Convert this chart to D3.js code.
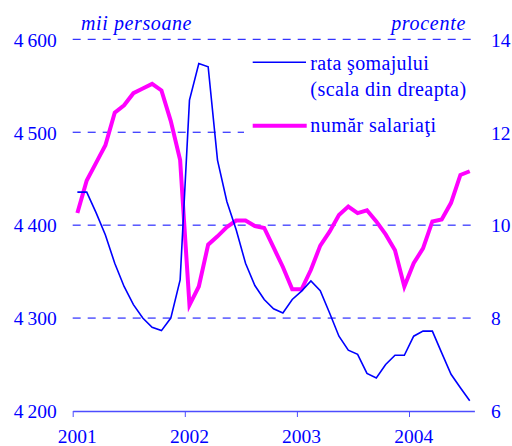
<!DOCTYPE html>
<html><head><meta charset="utf-8">
<script src="https://cdn.jsdelivr.net/npm/d3@7/dist/d3.min.js"></script>
<style>
body{margin:0;background:#fff;}
text{font-family:"Liberation Serif","Times New Roman",serif;fill:#0000ff;}
</style></head>
<body><svg id="c" width="512" height="446"></svg>
<script>
const years = ["2001","2002","2003","2004"];
const leftTicks = [4200,4300,4400,4500,4600];
const rightTicks = [6,8,10,12,14];
// monthly, Jan 2001 - Jul 2004
const somaj = [10.71,10.71,10.27,9.79,9.18,8.68,8.29,8.00,7.80,7.73,
  8.00,8.82,12.69,13.48,13.41,11.40,10.51,9.90,9.18,8.70,
  8.40,8.20,8.11,8.40,8.58,8.80,8.59,8.11,7.61,7.31,
  7.22,6.81,6.71,7.00,7.20,7.20,7.61,7.72,7.72,7.25,
  6.79,6.50,6.22];
const salariati = [4413,4448,4467,4486,4521,4529,4542,4547,4552,4545,
  4512,4470,4314,4334,4379,4388,4398,4405,4405,4399,
  4397,4376,4355,4331,4331,4352,4378,4393,4411,4420,
  4413,4416,4404,4390,4373,4334,4359,4375,4404,4406,
  4424,4454,4458];

const svg = d3.select("#c");
const x = d3.scaleLinear().domain([0,43]).range([72.7,474.4]);
const yL = d3.scaleLinear().domain([4200,4600]).range([411,39.3]);
const yR = d3.scaleLinear().domain([6,14]).range([411,39.3]);
const fmt = d => d3.format(",")(d).replace(",", " ");

// gridlines
svg.append("g").selectAll("line").data(leftTicks.slice(1)).join("line")
  .attr("x1",x(0)).attr("x2",x(43))
  .attr("y1",d=>yL(d)).attr("y2",d=>yL(d))
  .attr("stroke","#0000ff").attr("stroke-width",1).attr("stroke-dasharray","8,7");

// legend background
svg.append("rect").attr("x",244).attr("y",48).attr("width",228).attr("height",92).attr("fill","#fff");

// x axis
const xAxis = d3.axisBottom(x).tickValues([0,12,24,36]).tickFormat("").tickSize(6).tickSizeOuter(0);
const gx = svg.append("g").attr("transform","translate(0,411)").call(xAxis);
gx.select(".domain").attr("stroke","#4d4dff").attr("stroke-width",1.5);
gx.selectAll(".tick line").attr("stroke","#4d4dff");
// year labels centred on January of each year
svg.append("g").selectAll("text").data(years).join("text")
  .attr("x",(d,i)=>x(i*12+0.5)).attr("y",443).attr("text-anchor","middle")
  .attr("font-size",19.5).text(d=>d);

// left labels
svg.append("g").selectAll("text").data(leftTicks).join("text")
  .attr("x",56.7).attr("y",d=>yL(d)+7.3).attr("text-anchor","end")
  .attr("font-size",19.5).attr("word-spacing",-1).text(fmt);
// right labels
svg.append("g").selectAll("text").data(rightTicks).join("text")
  .attr("x",491).attr("y",d=>yR(d)+7.3)
  .attr("font-size",19.5).text(d=>d);

// units
svg.append("text").attr("x",81).attr("y",30).attr("font-size",20).attr("font-style","italic")
  .attr("letter-spacing",0.6).text("mii persoane");
svg.append("text").attr("x",466).attr("y",30).attr("font-size",20).attr("font-style","italic")
  .attr("text-anchor","end").attr("letter-spacing",0.7).text("procente");

// lines
const lineL = d3.line().x((d,i)=>x(i+0.5)).y(d=>yL(d));
const lineR = d3.line().x((d,i)=>x(i+0.5)).y(d=>yR(d));
svg.append("path").datum(salariati).attr("d",lineL).attr("fill","none")
  .attr("stroke","#ff00ff").attr("stroke-width",4).attr("stroke-linejoin","miter");
svg.append("path").datum(somaj).attr("d",lineR).attr("fill","none")
  .attr("stroke","#0000ff").attr("stroke-width",1.6);

// legend
const lg = svg.append("g");
lg.append("line").attr("x1",252.7).attr("x2",306).attr("y1",62.3).attr("y2",62.3)
  .attr("stroke","#0000ff").attr("stroke-width",1.6);
lg.append("line").attr("x1",252.7).attr("x2",306.7).attr("y1",125.7).attr("y2",125.7)
  .attr("stroke","#ff00ff").attr("stroke-width",4);
lg.append("text").attr("x",310.3).attr("y",69.5).attr("font-size",20).attr("letter-spacing",0.35).text("rata şomajului");
lg.append("text").attr("x",310.3).attr("y",95.5).attr("font-size",20).attr("letter-spacing",0.45).text("(scala din dreapta)");
lg.append("text").attr("x",310.3).attr("y",131.5).attr("font-size",20).attr("letter-spacing",0.45).text("număr salariaţi");
</script></body></html>
